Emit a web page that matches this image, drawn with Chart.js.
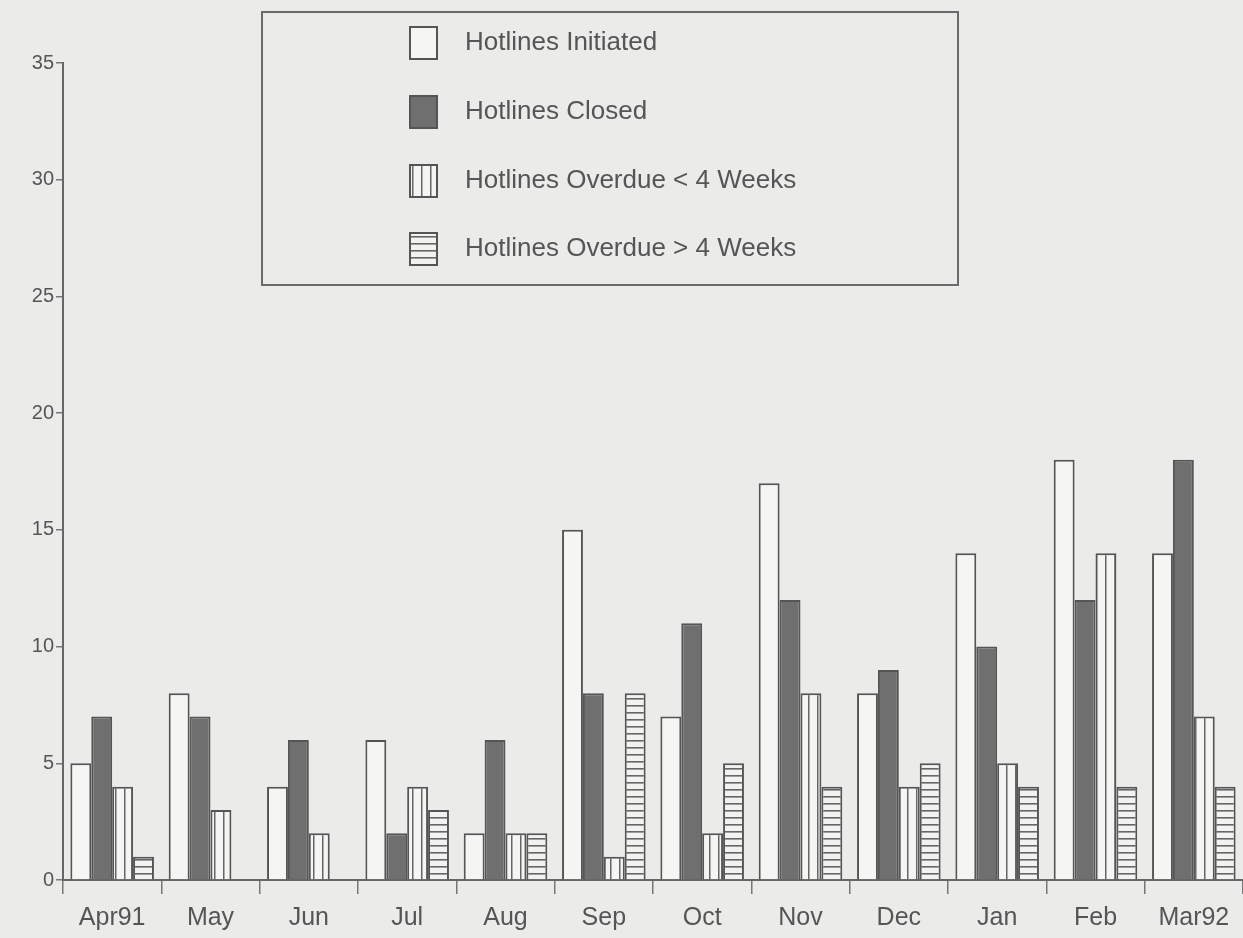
<!DOCTYPE html>
<html>
<head>
<meta charset="utf-8">
<script src="https://cdn.jsdelivr.net/npm/chart.js@4.4.1/dist/chart.umd.min.js"></script>
<style>
  html, body { margin: 0; padding: 0; background: #ebebea; }
  #wrap { width: 1243px; height: 938px; position: relative; }
</style>
</head>
<body>
<div id="wrap"><canvas id="chart"></canvas></div>
<script>
// data
const months = ["Apr91", "May", "Jun", "Jul", "Aug", "Sep", "Oct", "Nov", "Dec", "Jan", "Feb", "Mar92"];
const initiated = [5, 8, 4, 6, 2, 15, 7, 17, 8, 14, 18, 14];
const closed = [7, 7, 6, 2, 6, 8, 11, 12, 9, 10, 12, 18];
const overdueUnder4 = [4, 3, 2, 4, 2, 1, 2, 8, 4, 5, 14, 7];
const overdueOver4 = [1, 0, 0, 3, 2, 8, 5, 4, 5, 4, 4, 4];
const yTicks = [0, 5, 10, 15, 20, 25, 30, 35];

const BG = "#ebebea";
const INK = "#555555";
const FONT = "'Liberation Sans', Arial, sans-serif";

// hatch fills
function makePattern(kind) {
  const c = document.createElement("canvas");
  const ctx = c.getContext("2d");
  if (kind === "v") {
    c.width = 9; c.height = 9;
    ctx.fillStyle = "#f5f5f4";
    ctx.fillRect(0, 0, 9, 9);
    ctx.fillStyle = "#666";
    ctx.fillRect(7, 0, 1.5, 9);
  } else {
    c.width = 8; c.height = 7;
    ctx.fillStyle = "#f2f2f1";
    ctx.fillRect(0, 0, 8, 7);
    ctx.fillStyle = "#666";
    ctx.fillRect(0, 5, 8, 1.6);
  }
  return ctx.createPattern(c, "repeat");
}

const vPattern = makePattern("v");
const hPattern = makePattern("h");

// legend drawn as a framed box inside the plot
const boxLegend = {
  id: "boxLegend",
  afterDraw(chart) {
    const ctx = chart.ctx;
    ctx.save();
    ctx.fillStyle = BG;
    ctx.fillRect(262, 12, 696, 273);
    ctx.strokeStyle = "#6a6a6a";
    ctx.lineWidth = 2;
    ctx.strokeRect(262, 12, 696, 273);
    const rows = [43, 112, 181, 249];
    ctx.font = "26px " + FONT;
    ctx.textBaseline = "middle";
    chart.data.datasets.forEach((ds, i) => {
      const y = rows[i];
      ctx.fillStyle = ds.backgroundColor;
      ctx.fillRect(410, y - 16, 27, 32);
      ctx.strokeStyle = "#555";
      ctx.lineWidth = 2;
      ctx.strokeRect(410, y - 16, 27, 32);
      ctx.fillStyle = INK;
      ctx.fillText(ds.label, 465, y);
    });
    ctx.restore();
  }
};

new Chart(document.getElementById("chart"), {
  type: "bar",
  data: {
    labels: months,
    datasets: [
      { label: "Hotlines Initiated", data: initiated, backgroundColor: "#f5f5f4" },
      { label: "Hotlines Closed", data: closed, backgroundColor: "#6f6f6f" },
      { label: "Hotlines Overdue < 4 Weeks", data: overdueUnder4, backgroundColor: vPattern },
      { label: "Hotlines Overdue > 4 Weeks", data: overdueOver4, backgroundColor: hPattern },
    ].map((d) => ({
      ...d,
      borderColor: "#555",
      borderWidth: 2,
      borderSkipped: "bottom",
      barPercentage: 1,
      categoryPercentage: 0.85,
    })),
  },
  options: {
    responsive: true,
    maintainAspectRatio: false,
    animation: false,
    layout: { padding: { top: 63, right: 0, left: 0, bottom: 0 } },
    plugins: {
      legend: { display: false },
      tooltip: { enabled: false },
    },
    scales: {
      x: {
        offset: true,
        grid: {
          offset: true,
          drawOnChartArea: false,
          drawTicks: true,
          tickLength: 14,
          color: "#777",
          lineWidth: 1.5,
        },
        border: { color: "#666", width: 2 },
        ticks: { color: INK, font: { family: FONT, size: 25 }, padding: 9, maxRotation: 0 },
        afterFit: (scale) => { scale.height = 58; },
      },
      y: {
        min: 0,
        max: 35,
        afterBuildTicks: (scale) => { scale.ticks = yTicks.map((v) => ({ value: v })); },
        grid: { drawOnChartArea: false, tickLength: 7, color: "#777", lineWidth: 1.5 },
        border: { color: "#666", width: 2 },
        ticks: { color: INK, font: { family: FONT, size: 20 }, padding: 2 },
        afterFit: (scale) => { scale.width = 63; },
      },
    },
  },
  plugins: [boxLegend],
});
</script>
</body>
</html>
